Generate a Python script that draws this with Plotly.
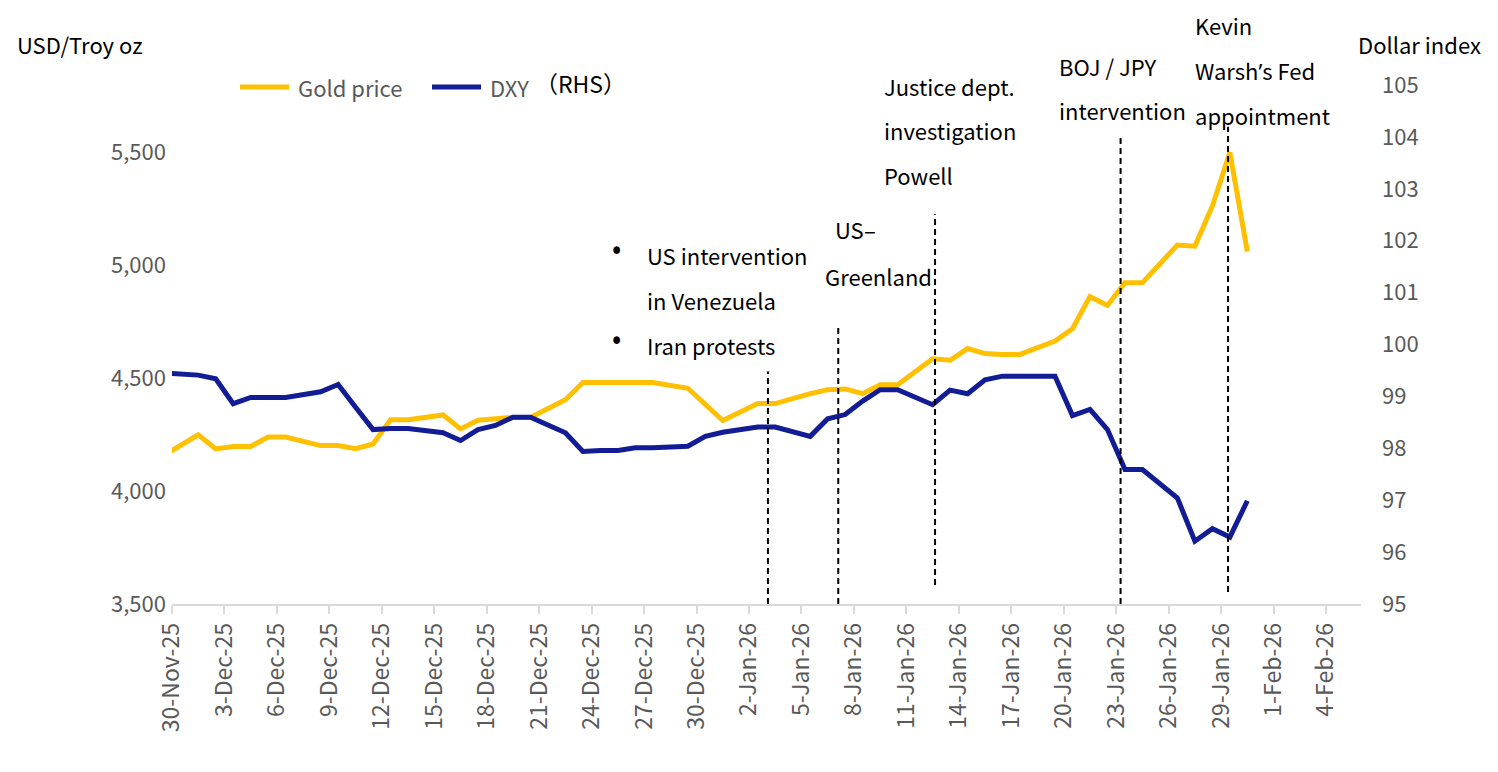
import pandas as pd
import plotly.graph_objects as go

# daily closes (Saturday repeats Friday, as in the source sheet)
dates = [
    "2025-11-29", "2025-12-01", "2025-12-02", "2025-12-03", "2025-12-04", "2025-12-05", "2025-12-06",
    "2025-12-08", "2025-12-09", "2025-12-10", "2025-12-11", "2025-12-12", "2025-12-13",
    "2025-12-15", "2025-12-16", "2025-12-17", "2025-12-18", "2025-12-19", "2025-12-20",
    "2025-12-22", "2025-12-23", "2025-12-24", "2025-12-25", "2025-12-26", "2025-12-27",
    "2025-12-29", "2025-12-30", "2025-12-31", "2026-01-02", "2026-01-03",
    "2026-01-05", "2026-01-06", "2026-01-07", "2026-01-08", "2026-01-09", "2026-01-10",
    "2026-01-12", "2026-01-13", "2026-01-14", "2026-01-15", "2026-01-16", "2026-01-17",
    "2026-01-19", "2026-01-20", "2026-01-21", "2026-01-22", "2026-01-23", "2026-01-24",
    "2026-01-26", "2026-01-27", "2026-01-28", "2026-01-29", "2026-01-30",
]
gold = [
    4157, 4250, 4187, 4198, 4198, 4240, 4240,
    4202, 4202, 4188, 4209, 4317, 4317,
    4338, 4276, 4314, 4321, 4327, 4327,
    4405, 4482, 4482, 4482, 4482, 4482,
    4456, 4384, 4313, 4388, 4388,
    4432, 4450, 4453, 4432, 4472, 4472,
    4587, 4580, 4632, 4610, 4606, 4606,
    4665, 4720, 4862, 4823, 4924, 4924,
    5091, 5086, 5264, 5501, 5062,
]
dxy = [
    99.45, 99.41, 99.34, 98.86, 98.98, 98.98, 98.98,
    99.09, 99.23, 98.79, 98.36, 98.38, 98.38,
    98.30, 98.15, 98.36, 98.44, 98.60, 98.60,
    98.30, 97.94, 97.96, 97.96, 98.01, 98.01,
    98.04, 98.23, 98.31, 98.41, 98.41,
    98.23, 98.57, 98.65, 98.91, 99.13, 99.13,
    98.84, 99.12, 99.05, 99.32, 99.39, 99.39,
    99.39, 98.63, 98.75, 98.36, 97.59, 97.59,
    97.04, 96.21, 96.45, 96.29, 96.99,
]

# event markers (dashed verticals), heights in USD/oz
event_x = ["2026-01-03 02:00", "2026-01-07 02:30", "2026-01-12 15:20", "2026-01-23 06:00", "2026-01-29 09:30"]
event_top = [4530, 4730, 5227, 5569, 5615]
event_bottom = [3500, 3500, 3584, 3500, 3553]

GOLD = "#FFC000"
NAVY = "#121C94"
GREY = "#595959"
FONT = "Noto Sans CJK SC, Noto Sans, sans-serif"

# plot area in page pixels (used to place free text); page body adds an 8px offset
OFF = 8
W, H = 1498 - OFF, 772 - OFF
L, R, T, B = 172, 1361, 85, 604


def px_x(x):
    return (x - L) / (R - L)


def px_y(y):
    return (B - y) / (B - T)


x = pd.to_datetime(dates) + pd.Timedelta(hours=12)

fig = go.Figure()
fig.add_trace(go.Scatter(x=x, y=gold, mode="lines", name="Gold price",
                         line=dict(color=GOLD, width=5), showlegend=False))
fig.add_trace(go.Scatter(x=x, y=dxy, mode="lines", name="DXY", yaxis="y2",
                         line=dict(color=NAVY, width=5), showlegend=False))

for ex, top, bot in zip(event_x, event_top, event_bottom):
    fig.add_shape(type="line", xref="x", yref="y", x0=ex, x1=ex, y0=bot, y1=top,
                  line=dict(color="black", width=2, dash="6px,4px"))

annotations = []


def text(s, x, y, color="black", size=22, family=FONT):
    annotations.append(dict(text=s, x=px_x(x), y=px_y(y), xref="paper", yref="paper",
                            xanchor="left", yanchor="middle", showarrow=False,
                            font=dict(family=family, size=size, color=color)))


# event labels
text("•", 609, 250, size=30, family="Noto Sans")
text("US intervention", 645, 255)
text("in Venezuela", 645, 300)
text("•", 609, 340, size=30, family="Noto Sans")
text("Iran protests", 645, 345)
text("US–", 833, 229)
text("Greenland", 823, 276)
text("Justice dept.", 882, 86)
text("investigation", 882, 130)
text("Powell", 882, 175)
text("BOJ / JPY", 1057, 66)
text("intervention", 1057, 110)
text("Kevin", 1193, 25)
text("Warsh<span style='font-family:Noto Sans'>’</span>s Fed", 1193, 70)
text("appointment", 1193, 115)

# axis titles
text("USD/Troy oz", 15, 44)
text("Dollar index", 1356, 44)

# legend
fig.add_shape(type="line", xref="paper", yref="paper", x0=px_x(240), x1=px_x(289),
              y0=px_y(87), y1=px_y(87), line=dict(color=GOLD, width=5))
fig.add_shape(type="line", xref="paper", yref="paper", x0=px_x(432), x1=px_x(481),
              y0=px_y(87), y1=px_y(87), line=dict(color=NAVY, width=5))
text("Gold price", 296, 87, color=GREY)
text("DXY", 488, 87, color=GREY)
text("（RHS）", 533, 83, size=23)

fig.update_layout(
    width=W, height=H,
    margin=dict(l=L - OFF, r=1498 - R, t=T - OFF, b=772 - B),
    plot_bgcolor="white", paper_bgcolor="white",
    font=dict(family=FONT, color=GREY),
    showlegend=False,
    annotations=annotations,
    xaxis=dict(
        type="date", range=["2025-11-30", "2026-02-06"],
        tick0="2025-11-30", dtick=3 * 86400000, tickformat="%-d-%b-%y",
        tickangle=-90, ticks="outside", ticklen=8, tickcolor="#d9d9d9", tickwidth=1.5,
        showline=True, linecolor="#d9d9d9", linewidth=1.5, showgrid=False, zeroline=False,
        tickfont=dict(size=23, color=GREY),
    ),
    yaxis=dict(
        range=[3500, 5800], tickvals=[3500, 4000, 4500, 5000, 5500], tickformat=",",
        showgrid=False, zeroline=False, showline=False, ticks="", ticklabelstandoff=5,
        tickfont=dict(size=22, color=GREY),
    ),
    yaxis2=dict(
        overlaying="y", side="right", range=[95, 105], dtick=1,
        showgrid=False, zeroline=False, showline=False, ticks="", ticklabelstandoff=20,
        tickfont=dict(size=22, color=GREY),
    ),
)

fig.write_html("out.html")
